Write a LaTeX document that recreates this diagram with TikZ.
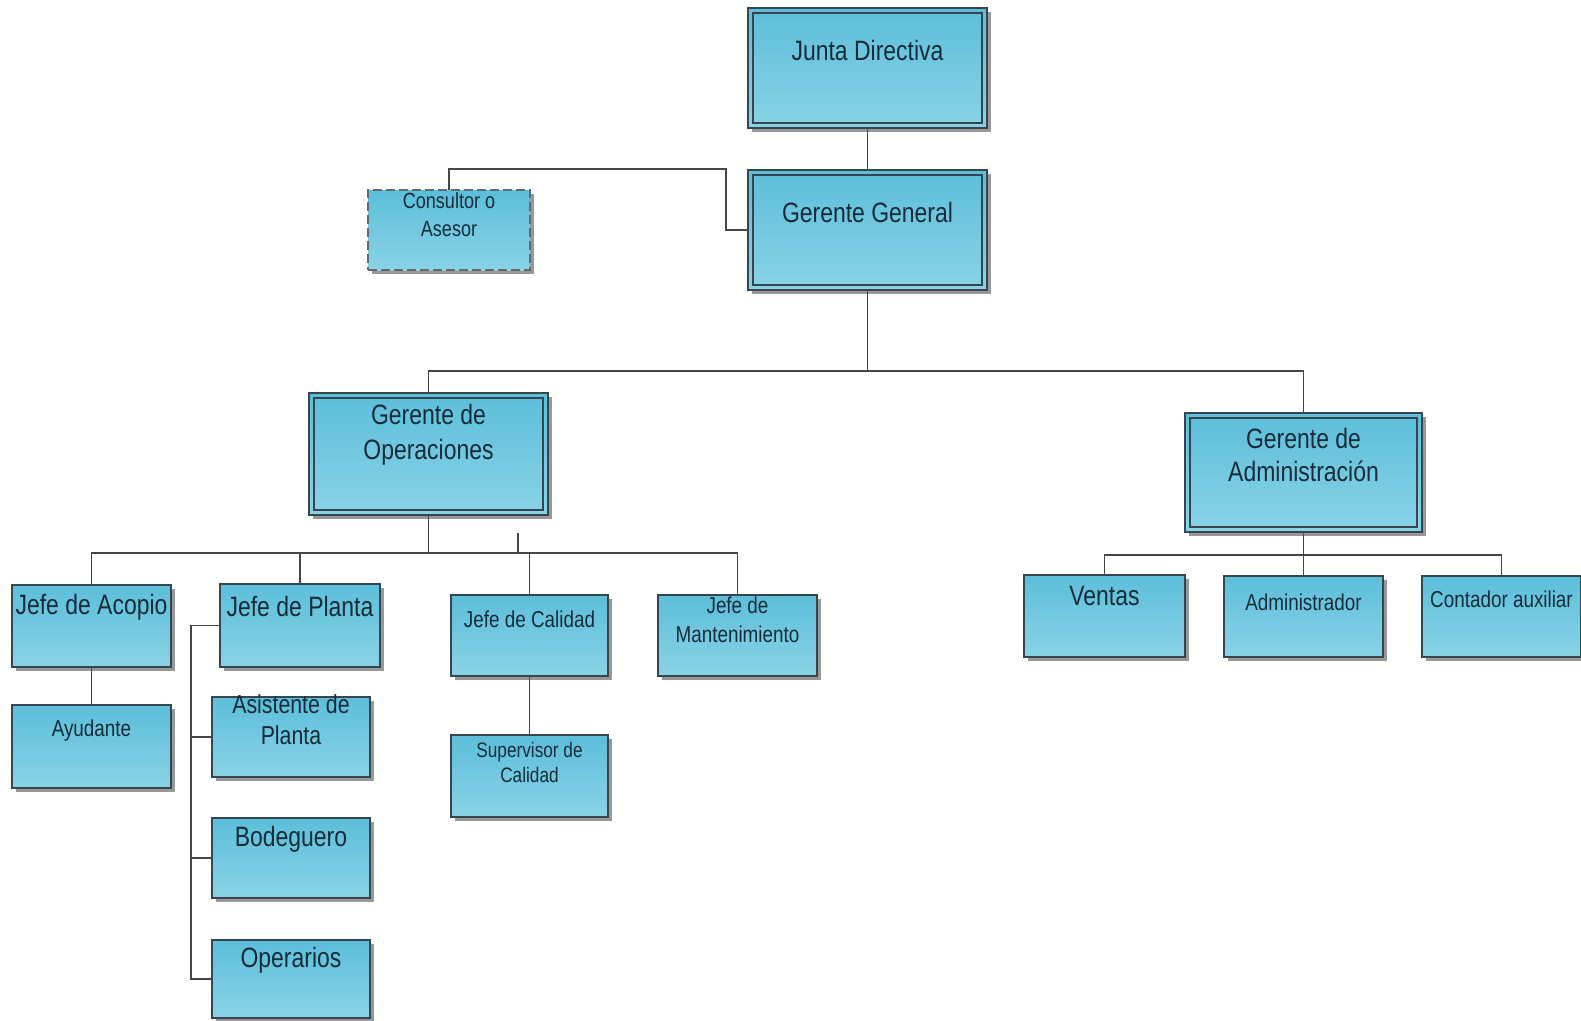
\documentclass[tikz,border=0pt]{standalone}
\usepackage{fontspec}
\setmainfont{Liberation Sans}[FakeStretch=0.82]
\usetikzlibrary{shadows}

\definecolor{boxtop}{RGB}{92,190,218}
\definecolor{boxbot}{RGB}{138,211,230}
\definecolor{edge}{RGB}{55,70,78}
\definecolor{ink}{RGB}{20,44,58}
\definecolor{wire}{RGB}{70,70,70}
\definecolor{shade}{RGB}{135,135,135}

\tikzset{
  unit/.style={draw=edge, line width=1.6pt, top color=boxtop, bottom color=boxbot,
    drop shadow={shadow xshift=3.5pt, shadow yshift=-3.5pt, fill=shade, opacity=0.85},
    inner sep=0pt, outer sep=0pt},
  advisor/.style={unit, draw=edge!80, dash pattern=on 9pt off 4pt},
  frame/.style={draw=edge, line width=1.4pt},
  txt/.style={text=ink, align=center, inner sep=0pt},
  fA/.style={txt, font=\fontsize{28}{35}\selectfont},
  fB/.style={txt, font=\fontsize{26}{31}\selectfont},
  fC/.style={txt, font=\fontsize{23}{29}\selectfont},
  fD/.style={txt, font=\fontsize{22}{28}\selectfont},
  fE/.style={txt, font=\fontsize{21}{25}\selectfont},
  wire/.style={draw=wire, line width=1.5pt},
}

\begin{document}
\begin{tikzpicture}[x=1pt, y=-1pt]
\useasboundingbox[fill=white] (0,0) rectangle (1581,1020);

% ---- top management
\node[unit, minimum width=239pt, minimum height=120pt] (jd) at (867.5,68) {};
\draw[frame] ([shift={(5pt,-5pt)}]jd.north west) rectangle ([shift={(-5pt,5pt)}]jd.south east);
\node[fA] (jd-t) at ([yshift=-42pt]jd.north) {Junta Directiva};

\node[unit, minimum width=239pt, minimum height=120pt] (gg) at (867.5,230) {};
\draw[frame] ([shift={(5pt,-5pt)}]gg.north west) rectangle ([shift={(-5pt,5pt)}]gg.south east);
\node[fA] (gg-t) at ([yshift=-42pt]gg.north) {Gerente General};

\node[advisor, minimum width=162pt, minimum height=80pt] (cons) at (449,230) {};
\node[fD] (cons-t) at ([yshift=-25pt]cons.north) {Consultor o\\Asesor};

% ---- managers
\node[unit, minimum width=239pt, minimum height=122pt] (go) at (428.5,454) {};
\draw[frame] ([shift={(5pt,-5pt)}]go.north west) rectangle ([shift={(-5pt,5pt)}]go.south east);
\node[fA] (go-t) at ([yshift=-41.5pt]go.north) {Gerente de\\Operaciones};

\node[unit, minimum width=237pt, minimum height=119pt] (ga) at (1303.5,472.5) {};
\draw[frame] ([shift={(5pt,-5pt)}]ga.north west) rectangle ([shift={(-5pt,5pt)}]ga.south east);
\node[fA, font=\fontsize{28}{33}\selectfont] (ga-t) at ([yshift=-41.5pt]ga.north) {Gerente de\\Administración};

% ---- operations staff
\node[unit, minimum width=159pt, minimum height=82pt] (acopio) at (91.5,626) {};
\node[fA] (acopio-t) at ([yshift=-22pt]acopio.north) {Jefe de Acopio};

\node[unit, minimum width=160pt, minimum height=83pt] (planta) at (300,625.5) {};
\node[fA] (planta-t) at ([yshift=-22pt]planta.north) {Jefe de Planta};

\node[unit, minimum width=157pt, minimum height=81pt] (calidad) at (529.5,635.5) {};
\node[fC] (calidad-t) at ([yshift=-24pt]calidad.north) {Jefe de Calidad};

\node[unit, minimum width=159pt, minimum height=81pt] (mant) at (737.5,635.5) {};
\node[fC] (mant-t) at ([yshift=-24.5pt]mant.north) {Jefe de\\Mantenimiento};

\node[unit, minimum width=159pt, minimum height=83pt] (ayud) at (91.5,746.5) {};
\node[fC] (ayud-t) at ([yshift=-26pt]ayud.north) {Ayudante};

\node[unit, minimum width=158pt, minimum height=80pt] (asist) at (291,737) {};
\node[fB] (asist-t) at ([yshift=-22.5pt]asist.north) {Asistente de\\Planta};

\node[unit, minimum width=158pt, minimum height=80pt] (bodeg) at (291,858) {};
\node[fA] (bodeg-t) at ([yshift=-21pt]bodeg.north) {Bodeguero};

\node[unit, minimum width=158pt, minimum height=78pt] (oper) at (291,979) {};
\node[fA] (oper-t) at ([yshift=-20pt]oper.north) {Operarios};

\node[unit, minimum width=157pt, minimum height=82pt] (superv) at (529.5,776) {};
\node[fE] (superv-t) at ([yshift=-27.5pt]superv.north) {Supervisor de\\Calidad};

% ---- administration staff
\node[unit, minimum width=161pt, minimum height=82pt] (ventas) at (1104.5,616) {};
\node[fA] (ventas-t) at ([yshift=-21pt]ventas.north) {Ventas};

\node[unit, minimum width=159pt, minimum height=81pt] (admin) at (1303.5,616.5) {};
\node[fC] (admin-t) at ([yshift=-26pt]admin.north) {Administrador};

\node[unit, minimum width=159pt, minimum height=81pt] (cont) at (1501.5,616.5) {};
\node[fC] (cont-t) at ([yshift=-23pt]cont.north) {Contador auxiliar};

% ---- connector helpers
\coordinate (ybar1) at (0,371);
\coordinate (ybar2) at (0,553);
\coordinate (ybar3) at (0,555);
\coordinate (ck) at (726,169);
\coordinate (tap) at (191,625);
\coordinate (stub) at (518,533);

% ---- connectors
\draw[wire] (jd.south) -- (gg.north);
\draw[wire] (cons.north) |- (ck) |- (gg.west);
\draw[wire] (gg.south) -- (gg.south |- ybar1);
\draw[wire] (go.north) |- (ga.north |- ybar1) -- (ga.north);

\draw[wire] (go.south) -- (go.south |- ybar2);
\draw[wire] (acopio.north) |- (mant.north |- ybar2) -- (mant.north);
\draw[wire] (planta.north) -- (planta.north |- ybar2);
\draw[wire] (calidad.north) -- (calidad.north |- ybar2);
\draw[wire] (stub) -- (stub |- ybar2);
\draw[wire] (acopio.south) -- (ayud.north);
\draw[wire] (calidad.south) -- (superv.north);
\draw[wire] (planta.west) -- (tap |- planta.west) |- (oper.west);
\draw[wire] (tap |- asist.west) -- (asist.west);
\draw[wire] (tap |- bodeg.west) -- (bodeg.west);

\draw[wire] (ga.south) -- (ga.south |- ybar3);
\draw[wire] (ventas.north) |- (cont.north |- ybar3) -- (cont.north);
\draw[wire] (admin.north) -- (admin.north |- ybar3);
\end{tikzpicture}
\end{document}
